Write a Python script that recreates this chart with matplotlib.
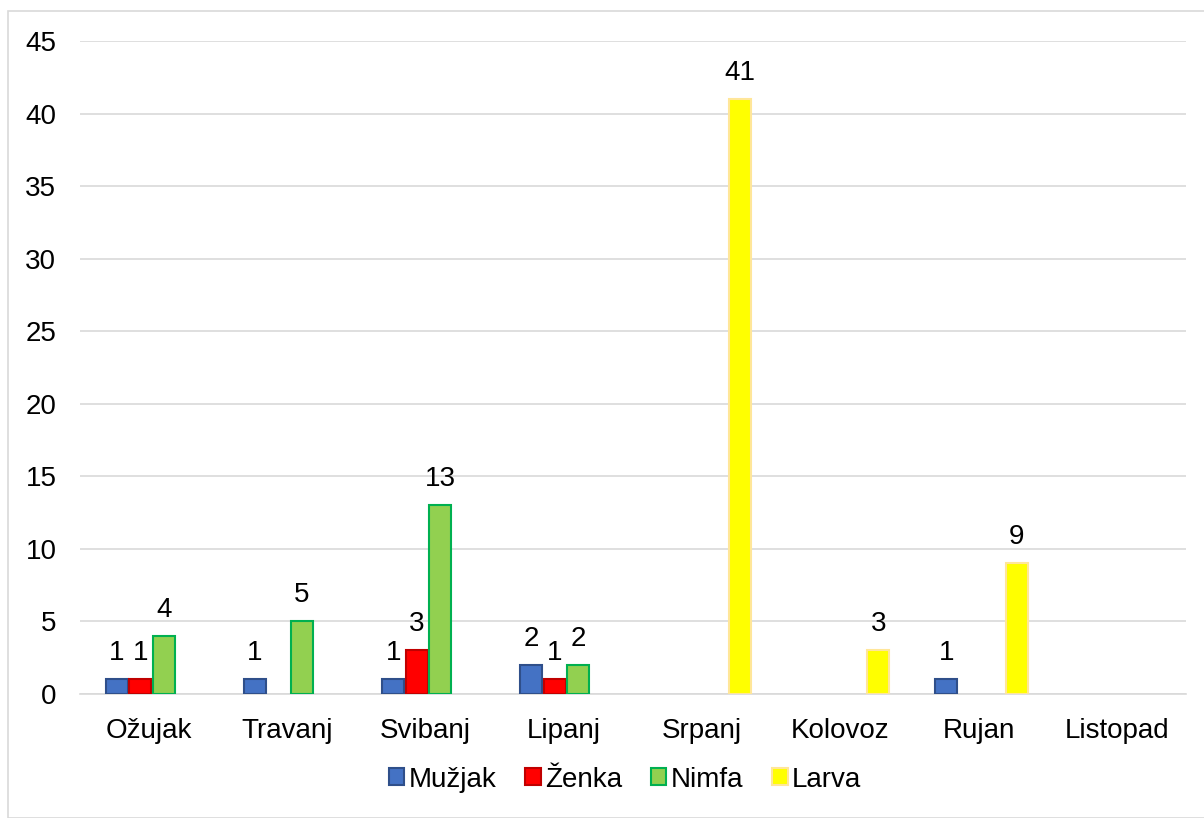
import matplotlib
matplotlib.use("Agg")
import matplotlib.pyplot as plt
import numpy as np
from matplotlib.patches import Rectangle

months = ["Ožujak", "Travanj", "Svibanj", "Lipanj", "Srpanj", "Kolovoz", "Rujan", "Listopad"]
muzjak = [1, 1, 1, 2, 0, 0, 1, 0]
zenka = [1, 0, 3, 1, 0, 0, 0, 0]
nimfa = [4, 5, 13, 2, 0, 0, 0, 0]
larva = [0, 0, 0, 0, 41, 3, 9, 0]
series_names = ["Mužjak", "Ženka", "Nimfa", "Larva"]
yticks = [0, 5, 10, 15, 20, 25, 30, 35, 40, 45]

plt.rcParams['font.family'] = ['Liberation Sans', 'DejaVu Sans']
FS = 20

fig = plt.figure(figsize=(12.04, 8.18), dpi=100)
fig.patches.append(Rectangle((8/1204, 0), 1.0, 1 - 11/818, transform=fig.transFigure,
                             fill=False, edgecolor="#d9d9d9", linewidth=1.2))
ax = fig.add_axes([80/1204, 1 - 694/818, 1106/1204, (694 - 41)/818])

x = np.arange(len(months))
width = 0.16
step = 0.17
faces = ["#4472c4", "#ff0000", "#92d050", "#ffff00"]
edges = ["#2f4f8a", "#c00000", "#00b050", "#ffe699"]
data = [muzjak, zenka, nimfa, larva]
for i, (vals, name) in enumerate(zip(data, series_names)):
    pos = x + (i - 1.5) * step + 0.02
    v = np.array(vals, dtype=float)
    nz = v > 0
    ax.bar(pos[nz], v[nz], width, color=faces[i], edgecolor=edges[i], linewidth=1.5,
           label=name, zorder=3)
    for p, val in zip(pos[nz], v[nz]):
        ax.text(p, val + 0.9, str(int(val)),
                ha="center", va="bottom", fontsize=FS, color="black")

ax.set_xlim(-0.5, len(months) - 0.5)
ax.set_ylim(0, 45)
ax.set_yticks(yticks)
ax.set_xticks(x)
ax.set_xticklabels(months, fontsize=FS)
ax.tick_params(axis="y", labelsize=FS, length=0, pad=17)
ax.tick_params(axis="x", length=0, pad=17)
ax.grid(axis="y", color="#d9d9d9", linewidth=1.2, zorder=0)
for s in ["top", "right", "left"]:
    ax.spines[s].set_visible(False)
ax.spines["bottom"].set_color("#d9d9d9")
ax.spines["bottom"].set_linewidth(1.2)

leg = ax.legend(loc="upper center", bbox_to_anchor=(545/1106, -0.09), ncol=4, frameon=False,
                fontsize=FS, handlelength=0.55, handleheight=0.55, handletextpad=0.15,
                columnspacing=1.05, borderpad=0)

fig.savefig("out.png", dpi=100)
